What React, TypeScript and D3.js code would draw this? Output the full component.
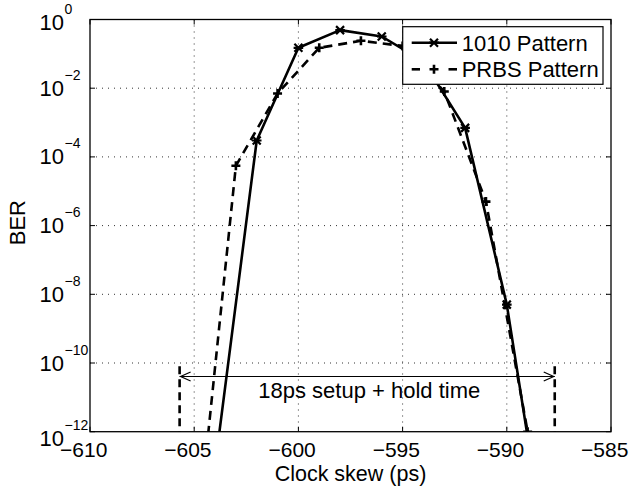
import React from 'react';
import * as d3 from 'd3';

// clock skew (ps) and measured BER for the two patterns
const skew1010 = [-604, -602, -600, -598, -596, -594, -592, -590, -588];
const ber1010 = [1e-13, 3e-4, 0.15, 0.49, 0.32, 0.06, 7e-4, 5e-9, 1e-16];
const skewPrbs = [-605, -603, -601, -599, -597, -595, -593, -591, -589];
const berPrbs = [1e-16, 5.5e-5, 7e-3, 0.15, 0.24, 0.17, 8e-3, 5e-6, 1e-12];

const xTicks = [-610, -605, -600, -595, -590, -585];
const yTickExp = [0, -2, -4, -6, -8, -10, -12];
const windowEdges = [-605.7, -587.7];
const windowBer = [8e-11, 1e-12];
const arrowBer = 4.2e-11;
const annotation = '18ps setup + hold time';
const seriesNames = ['1010 Pattern', 'PRBS Pattern'];

const FONT = '"Liberation Sans", Arial, Helvetica, sans-serif';
const minus = (s: string) => s.replace('-', '\u2212');

function Asterisk({ x, y, r }: { x: number; y: number; r: number }) {
    const d = `M${x - r},${y - r}L${x + r},${y + r}M${x - r},${y + r}L${x + r},${y - r}M${x - r * 1.2},${y}L${x + r * 1.2},${y}`;
    return <path d={d} stroke="black" strokeWidth={2.2} fill="none" />;
}

function Plus({ x, y, r }: { x: number; y: number; r: number }) {
    const d = `M${x - r},${y}L${x + r},${y}M${x},${y - r}L${x},${y + r}`;
    return <path d={d} stroke="black" strokeWidth={2.6} fill="none" />;
}

function BerChart() {
    const width = 631;
    const height = 487;
    const left = 90, right = 611, top = 19.5, bottom = 431.7;

    const x = d3.scaleLinear().domain([-610, -585]).range([left, right]);
    const y = d3.scaleLog().domain([1e-12, 1]).range([bottom, top]);

    const line = d3.line<[number, number]>()
        .x(d => x(d[0]))
        .y(d => y(d[1]));

    const pts1010 = skew1010.map((s, i) => [s, ber1010[i]] as [number, number]);
    const ptsPrbs = skewPrbs.map((s, i) => [s, berPrbs[i]] as [number, number]);
    const inside = (p: [number, number]) => p[1] >= 1e-12 && p[1] <= 1;

    const tickLen = 5;
    const arrowY = Math.round(y(arrowBer)) + 0.5;
    const xa = x(windowEdges[0]);
    const xb = x(windowEdges[1]);

    // legend
    const lg = { x: 402.7, y: 26.7, w: 200.3, h: 57.6 };
    const rows = [42.7, 69.3];

    return (
        <svg width={width} height={height} style={{ position: 'absolute', left: 0, top: 0, background: 'white' }}
            fontFamily={FONT}>
            <defs>
                <clipPath id="plotArea">
                    <rect x={left} y={top} width={right - left} height={bottom - top} />
                </clipPath>
            </defs>
            <rect x={0} y={0} width={width} height={height} fill="white" />

            {/* grid */}
            {xTicks.slice(1, -1).map(t => (
                <line key={'gx' + t} x1={x(t)} x2={x(t)} y1={top} y2={bottom}
                    stroke="#333" strokeWidth={1} strokeDasharray="1,5" />
            ))}
            {yTickExp.slice(1, -1).map(e => (
                <line key={'gy' + e} x1={left} x2={right} y1={y(Math.pow(10, e))} y2={y(Math.pow(10, e))}
                    stroke="#333" strokeWidth={1} strokeDasharray="1,5" />
            ))}

            {/* ticks on all four sides; digits centred on the tick, minus hanging left */}
            {xTicks.map(t => (
                <g key={'tx' + t}>
                    <line x1={x(t)} x2={x(t)} y1={bottom} y2={bottom - tickLen} stroke="black" />
                    <line x1={x(t)} x2={x(t)} y1={top} y2={top + tickLen} stroke="black" />
                    <text x={x(t) - 6.3} y={456.5} fontSize={21} textAnchor="middle">{minus(String(t))}</text>
                </g>
            ))}
            {yTickExp.map((e, i) => {
                const yy = y(Math.pow(10, e));
                const shift = i === 0 ? 3 : i === yTickExp.length - 1 ? 7 : 0;
                return (
                    <g key={'ty' + e}>
                        <line x1={left} x2={left + tickLen} y1={yy} y2={yy} stroke="black" />
                        <line x1={right} x2={right - tickLen} y1={yy} y2={yy} stroke="black" />
                        <text x={64} y={yy + 7.5 + shift} fontSize={22} textAnchor="end">10</text>
                        <text x={64.5} y={yy - 8.5 + shift} fontSize={14}>{minus(String(e))}</text>
                    </g>
                );
            })}

            {/* data */}
            <g clipPath="url(#plotArea)">
                <path d={line(pts1010) || ''} fill="none" stroke="black" strokeWidth={2.6} strokeLinejoin="round" />
                <path d={line(ptsPrbs) || ''} fill="none" stroke="black" strokeWidth={2.6} strokeDasharray="9,6" />
                {pts1010.filter(inside).map(p => <Asterisk key={'a' + p[0]} x={x(p[0])} y={y(p[1])} r={4} />)}
                {ptsPrbs.filter(inside).map(p => <Plus key={'p' + p[0]} x={x(p[0])} y={y(p[1])} r={4.5} />)}
            </g>

            {/* setup + hold window */}
            {windowEdges.map(v => (
                <line key={'w' + v} x1={x(v)} x2={x(v)} y1={y(windowBer[0])} y2={y(windowBer[1])}
                    stroke="black" strokeWidth={2.6} strokeDasharray="8,5" />
            ))}
            <line x1={xa} x2={xb} y1={arrowY} y2={arrowY} stroke="black" strokeWidth={1} />
            <path d={`M${xa + 11},${arrowY - 4.5}L${xa + 1},${arrowY}L${xa + 11},${arrowY + 4.5}`}
                fill="none" stroke="black" strokeWidth={1.2} />
            <path d={`M${xb - 11},${arrowY - 4.5}L${xb - 1},${arrowY}L${xb - 11},${arrowY + 4.5}`}
                fill="none" stroke="black" strokeWidth={1.2} />
            <text x={258.3} y={398.3} fontSize={22}>{annotation}</text>

            {/* frame */}
            <rect x={left} y={top} width={right - left} height={bottom - top} fill="none" stroke="black" strokeWidth={1.3} />

            {/* axis titles */}
            <text x={(left + right) / 2} y={480.5} fontSize={21.5} textAnchor="middle">Clock skew (ps)</text>
            <text transform={`translate(25, ${(top + bottom) / 2 - 3}) rotate(-90)`} fontSize={22} textAnchor="middle">BER</text>

            {/* legend */}
            <rect x={lg.x} y={lg.y} width={lg.w} height={lg.h} fill="white" stroke="black" strokeWidth={1.2} />
            <line x1={411.7} x2={457} y1={rows[0]} y2={rows[0]} stroke="black" strokeWidth={2.6} />
            <Asterisk x={434} y={rows[0]} r={4} />
            <line x1={411.7} x2={420} y1={rows[1]} y2={rows[1]} stroke="black" strokeWidth={2.6} />
            <line x1={448.5} x2={457} y1={rows[1]} y2={rows[1]} stroke="black" strokeWidth={2.6} />
            <Plus x={434} y={rows[1]} r={4.5} />
            {seriesNames.map((n, i) => (
                <text key={n} x={461.7} y={rows[i] + 7.8} fontSize={22}>{n}</text>
            ))}
        </svg>
    );
}

export default function App() {
    return <BerChart />;
}
